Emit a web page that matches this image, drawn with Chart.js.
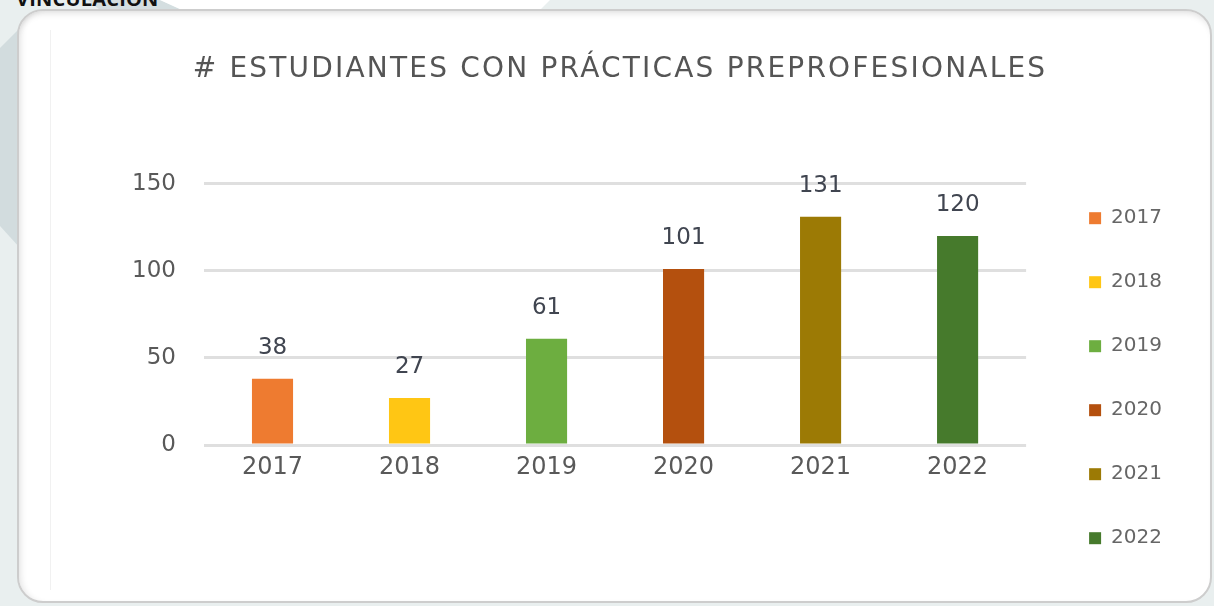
<!DOCTYPE html>
<html>
<head>
<meta charset="utf-8">
<script src="https://cdn.jsdelivr.net/npm/chart.js@4.4.1/dist/chart.umd.min.js"></script>
<style>
  html, body { margin:0; padding:0; }
  body { width:1214px; height:606px; overflow:hidden; position:relative; background:#E9EFEF; font-family: "DejaVu Sans", sans-serif; }
  .band { position:absolute; left:0; top:0; width:20px; height:260px; background:#D2DCDE; clip-path: polygon(0 48px, 20px 28px, 20px 248px, 0 226px); }
  .tabDark { position:absolute; left:0; top:0; width:200px; height:10px; background:#D4DEE0; clip-path: polygon(88px 0, 160px 0, 182px 10px, 100px 10px); }
  .tabWhite { position:absolute; left:0; top:0; width:560px; height:10px; background:#FFFFFF; clip-path: polygon(160px 0, 550px 0, 540px 10px, 182px 10px); }
  .vinc { position:absolute; left:16px; top:-11px; font: bold 20px/20px "Open Sans", sans-serif; color:#111; letter-spacing:0.2px; white-space:nowrap; }
  .panel { position:absolute; left:17px; top:9px; width:1191px; height:590px; background:#FFFFFF; border:2px solid #CDCDCD; border-radius:26px;
           box-shadow: inset 0 7px 7px -5px rgba(0,0,0,0.13), inset 6px 0 6px -4px rgba(0,0,0,0.10); }
  .inner { position:absolute; left:50px; top:30px; width:1px; height:560px; background:#F1F1F1; }
  canvas { position:absolute; left:0; top:0; }
</style>
</head>
<body>
<div class="band"></div>
<div class="tabDark"></div>
<div class="tabWhite"></div>
<div class="vinc">VINCULACIÓN</div>
<div class="panel"></div>
<div class="inner"></div>
<canvas id="c" width="1214" height="606"></canvas>
<script>
// ---- data ----
const categories = ['2017', '2018', '2019', '2020', '2021', '2022'];
const students = [38, 27, 61, 101, 131, 120];
const barColors = ['#EE7B30', '#FFC614', '#6DAE40', '#B4500E', '#9C7A05', '#467A2C'];
const yTickValues = [0, 50, 100, 150];
const chartTitle = '# ESTUDIANTES CON PRÁCTICAS PREPROFESIONALES';

const FONT = '"DejaVu Sans", sans-serif';
const TEXT = '#595959';

const titleSpacing = {
  id: 'titleSpacing',
  beforeDraw(chart) {
    const tb = chart.titleBlock;
    if (tb && !tb.__wrapped) {
      const orig = tb.draw;
      tb.draw = function () {
        const c = this.ctx;
        const prev = c.letterSpacing;
        c.letterSpacing = '2.2px';
        orig.apply(this, arguments);
        c.letterSpacing = prev || '0px';
      };
      tb.__wrapped = true;
    }
  }
};

const valueLabels = {
  id: 'valueLabels',
  afterDatasetsDraw(chart) {
    const ctx = chart.ctx;
    const meta = chart.getDatasetMeta(0);
    const data = chart.data.datasets[0].data;
    ctx.save();
    ctx.font = '23px ' + FONT;
    ctx.fillStyle = '#404550';
    ctx.textAlign = 'center';
    ctx.textBaseline = 'middle';
    meta.data.forEach((el, i) => {
      ctx.fillText(String(data[i]), el.x, el.y - 31);
    });
    ctx.restore();
  }
};

new Chart(document.getElementById('c'), {
  type: 'bar',
  data: {
    labels: categories,
    datasets: [{
      label: 'Estudiantes',
      data: students,
      backgroundColor: barColors,
      borderWidth: 0,
      categoryPercentage: 1,
      barPercentage: 0.3
    }]
  },
  options: {
    responsive: false,
    animation: false,
    devicePixelRatio: 1,
    layout: { padding: { left: 68, right: 42, top: 0, bottom: 0 } },
    plugins: {
      title: {
        display: true,
        text: chartTitle,
        color: '#555555',
        font: { family: FONT, size: 28, weight: 'normal', lineHeight: 1.2 },
        padding: { top: 53, bottom: 97 }
      },
      legend: {
        display: true,
        position: 'right',
        align: 'center',
        title: { display: true, text: '', font: { size: 12, lineHeight: 1.2 }, padding: { top: 136, bottom: 0 } },
        labels: {
          color: TEXT,
          font: { family: FONT, size: 20 },
          boxWidth: 12,
          boxHeight: 12,
          padding: 44,
          generateLabels: (chart) => categories.map((cat, i) => ({
            text: cat,
            fillStyle: barColors[i],
            strokeStyle: barColors[i],
            lineWidth: 0,
            hidden: false,
            index: i
          }))
        }
      },
      tooltip: { enabled: false }
    },
    scales: {
      x: {
        grid: { display: false, drawTicks: false },
        border: { display: false },
        ticks: { color: TEXT, font: { family: FONT, size: 24 }, padding: 8 },
        afterFit: (s) => { s.height = 161; }
      },
      y: {
        min: 0,
        max: 150,
        afterBuildTicks: (s) => { s.ticks = yTickValues.map(v => ({ value: v })); },
        grid: { color: '#DFDFDF', lineWidth: 3, drawTicks: false },
        border: { display: false },
        ticks: { color: TEXT, font: { family: FONT, size: 23 }, padding: 28 },
        afterFit: (s) => { s.width = 136; }
      },
      ySpacer: {
        position: 'right',
        display: true,
        grid: { display: false, drawTicks: false },
        border: { display: false },
        ticks: { display: false },
        afterFit: (s) => { s.width = 19; }
      }
    }
  },
  plugins: [titleSpacing, valueLabels]
});
</script>
</body>
</html>
